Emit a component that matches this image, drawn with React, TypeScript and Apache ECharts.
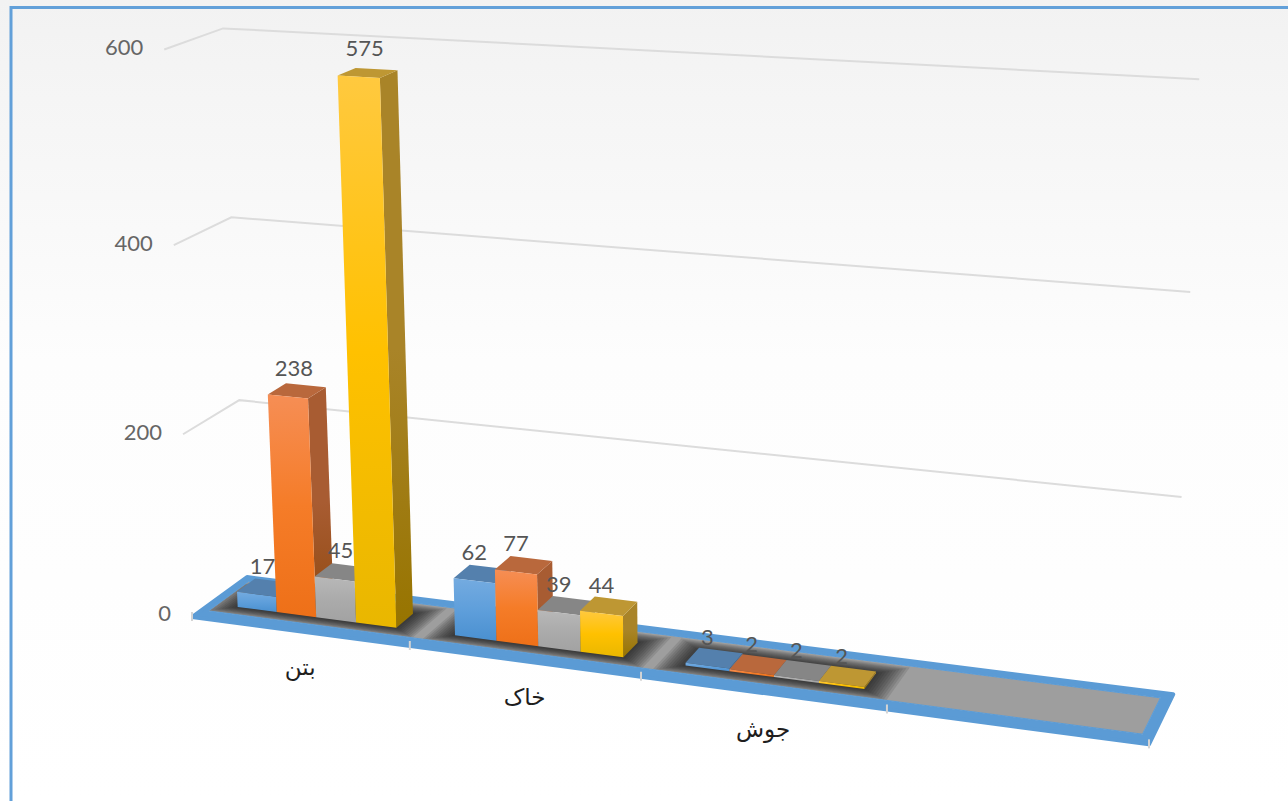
import React, { useEffect, useRef } from "react";
import * as echarts from "echarts";

const categories = ["بتن", "خاک", "جوش", ""];
const seriesA = [17, 62, 3];
const seriesB = [238, 77, 2];
const seriesC = [45, 39, 2];
const seriesD = [575, 44, 2];
const valueTicks = [0, 200, 400, 600];

const palette = [
  { name: "A", values: seriesA, frontTop: "#74abe0", frontMid: "#5f9fdb", frontBottom: "#4a90d0", top: "#5480ad", sideTop: "#4c7aa8", sideBottom: "#3f6f9c" },
  { name: "B", values: seriesB, frontTop: "#f68e55", frontMid: "#f57c28", frontBottom: "#ee7018", top: "#b9683c", sideTop: "#a85c32", sideBottom: "#914a10" },
  { name: "C", values: seriesC, frontTop: "#b8b8b8", frontMid: "#ababab", frontBottom: "#a2a2a2", top: "#868686", sideTop: "#7c7c7c", sideBottom: "#6e6e6e" },
  { name: "D", values: seriesD, frontTop: "#ffc93f", frontMid: "#ffc100", frontBottom: "#e9b700", top: "#be9733", sideTop: "#a98428", sideBottom: "#977400" },
];

const W = 1288;
const H = 801;
// perspective camera: unit box (u along categories, w depth, t height) -> screen
const CAM = {
  ax: 823.7, bx: 64, cx: -36, ox: 192,
  ay: 41, by: -19, cy: -570, oy: 617,
  g: -0.116, h: 0.0363, k: -0.05,
};
const project = (u: number, w: number, t: number): number[] => {
  const d = 1 + CAM.g * u + CAM.h * w + CAM.k * t;
  return [
    (CAM.ax * u + CAM.bx * w + CAM.cx * t + CAM.ox) / d,
    (CAM.ay * u + CAM.by * w + CAM.cy * t + CAM.oy) / d,
  ];
};
const quad = (u0: number, u1: number, w0: number, w1: number, t: number) => [
  project(u0, w0, t), project(u1, w0, t), project(u1, w1, t), project(u0, w1, t),
];

const GAP = 0.128; // share of a category band left of the first column
const BAR = 0.184; // share of a category band per column
const W0 = 1 / 3; // column depth range
const W1 = 2 / 3;
const SHADOW_LEVELS = [1, 0.9, 0.8, 0.7, 0.6, 0.5, 0.4, 0.3, 0.2, 0.1, 0];
const vgrad = (a: string, m: string, b: string) => ({
  type: "linear", x: 0, y: 0, x2: 0, y2: 1,
  colorStops: [{ offset: 0, color: a }, { offset: 0.5, color: m }, { offset: 1, color: b }],
});

const toU = (api: any, cat: number, share: number) => {
  const band = api.size([1, 0])[0];
  const c = api.coord([cat, 0])[0];
  return (c - band / 2 + band * share) / W;
};
const toT = (api: any, value: number) => 1 - api.coord([0, value])[1] / H;

const barSeries = (s: (typeof palette)[number], idx: number) => ({
  type: "custom",
  name: s.name,
  z: 10,
  clip: false,
  encode: { x: 0, y: 1 },
  data: s.values.map((v, i) => [i, v]),
  renderItem: (_: any, api: any) => {
    const cat = api.value(0);
    const t = toT(api, api.value(1));
    const u0 = toU(api, cat, GAP + BAR * idx);
    const u1 = toU(api, cat, GAP + BAR * (idx + 1));
    const bl = project(u0, W0, 0), br = project(u1, W0, 0), brb = project(u1, W1, 0);
    const tl = project(u0, W0, t), tr = project(u1, W0, t), trb = project(u1, W1, t), tlb = project(u0, W1, t);
    return {
      type: "group",
      children: [
        { type: "polygon", shape: { points: [br, brb, trb, tr] }, style: { fill: vgrad(s.sideTop, s.sideTop, s.sideBottom) } },
        { type: "polygon", shape: { points: [tl, tr, trb, tlb] }, style: { fill: s.top } },
        { type: "polygon", shape: { points: [bl, br, tr, tl] }, style: { fill: vgrad(s.frontTop, s.frontMid, s.frontBottom) } },
      ],
    };
  },
});

const labelSeries = (s: (typeof palette)[number], idx: number) => ({
  type: "custom",
  name: s.name + " labels",
  z: 20,
  clip: false,
  encode: { x: 0, y: 1 },
  data: s.values.map((v, i) => [i, v]),
  renderItem: (_: any, api: any) => {
    const cat = api.value(0);
    const val = api.value(1);
    const u = toU(api, cat, GAP + BAR * (idx + 0.5));
    const p = project(u, W0, toT(api, val));
    return {
      type: "text",
      style: {
        x: p[0] + (cat === 0 ? 6 : 0), y: p[1] - 29, text: String(val),
        fill: "#555555", font: "22px Lato, 'Open Sans', sans-serif",
        align: "center", verticalAlign: "middle",
      },
    };
  },
});

const floorInner = { u0: 0.008, u1: 0.99, w0: 0.17, w1: 0.9 };
const pageGradient = {
  type: "linear", x: 0, y: 0, x2: 0, y2: 1,
  colorStops: [
    { offset: 0, color: "#f2f2f2" },
    { offset: 0.45, color: "#fdfdfd" },
    { offset: 1, color: "#ffffff" },
  ],
};

export default function App() {
  const ref = useRef<HTMLDivElement>(null);
  useEffect(() => {
    if (!ref.current) return;
    const chart = echarts.init(ref.current, undefined, { renderer: "svg" });
    chart.setOption({
      animation: false,
      backgroundColor: "#ffffff",
      grid: { left: 0, top: 0, width: W, height: H },
      xAxis: { type: "category", data: categories, show: false },
      yAxis: { type: "value", min: 0, max: 600, interval: 200, show: false },
      graphic: [
        { type: "rect", z: 0, shape: { x: 0, y: 0, width: W, height: H }, style: { fill: pageGradient } },
        {
          type: "rect", z: 1,
          shape: { x: 11, y: 7.5, width: W + 20, height: H + 20 },
          style: { fill: "none", stroke: "#62a0d9", lineWidth: 3 },
        },
      ],
      series: [
        {
          type: "custom", name: "gridlines", z: 2, clip: false,
          encode: { x: 0, y: 1 },
          data: valueTicks.map((v) => [0, v]),
          renderItem: (_: any, api: any) => {
            const val = api.value(1);
            const t = toT(api, val);
            const a = project(0, 0, t), b = project(0, 1, t), c = project(1, 1, t);
            const children: any[] = [
              {
                type: "text",
                style: {
                  x: a[0] - 21, y: a[1] + (val === 0 ? -5 : -3), text: String(val),
                  fill: "#666666", font: "22px Lato, 'Open Sans', sans-serif",
                  align: "right", verticalAlign: "middle",
                },
              },
            ];
            if (val > 0) {
              children.unshift({
                type: "polyline", shape: { points: [a, b, c] },
                style: { stroke: "#dcdcdc", lineWidth: 2, fill: "none" },
              });
            }
            return { type: "group", children };
          },
        },
        {
          type: "custom", name: "floor", z: 3, clip: false,
          encode: { x: 0, y: 1 },
          data: [[0, 0]],
          renderItem: () => ({
            type: "polygon",
            shape: { points: quad(floorInner.u0, floorInner.u1, floorInner.w0, floorInner.w1, 0) },
            style: { fill: "#9e9e9e" },
          }),
        },
        {
          type: "custom", name: "floor shadow", z: 4, clip: false,
          encode: { x: 0, y: 1 },
          data: categories.slice(0, 3).map((_, i) => [i, 0]),
          renderItem: (_: any, api: any) => {
            const cat = api.value(0);
            return {
              type: "group",
              children: SHADOW_LEVELS.map((m) => ({
                type: "polygon",
                shape: {
                  points: quad(
                    toU(api, cat, GAP - 0.11 * m),
                    toU(api, cat, GAP + BAR * 4 + 0.11 * m),
                    W0 - 0.17 * m,
                    W1 + 0.2 * m,
                    0,
                  ),
                },
                style: { fill: "#141414", opacity: 0.11 },
              })),
            };
          },
        },
        {
          type: "custom", name: "floor frame", z: 5, clip: false,
          encode: { x: 0, y: 1 },
          data: [[0, 0]],
          renderItem: () => {
            const o = quad(0, 1, 0, 1, 0);
            const n = quad(floorInner.u0, floorInner.u1, floorInner.w0, floorInner.w1, 0);
            const ring = [o[0], o[1], o[2], o[3], o[0], n[0], n[3], n[2], n[1], n[0]];
            return {
              type: "group",
              children: [
                { type: "polygon", shape: { points: ring }, style: { fill: "#5b9bd5", stroke: "#5b9bd5", lineWidth: 1 } },
                { type: "polyline", shape: { points: [...o, o[0]] }, style: { stroke: "#5b9bd5", lineWidth: 4, lineJoin: "round", fill: "none" } },
              ],
            };
          },
        },
        {
          type: "custom", name: "ticks", z: 6, clip: false,
          encode: { x: 0, y: 1 },
          data: [0, 1, 2, 3, 4].map((i) => [i, 0]),
          renderItem: (_: any, api: any) => {
            const band = api.size([1, 0])[0];
            const p = project((api.value(0) * band) / W, 0, 0);
            return {
              type: "line",
              shape: { x1: p[0], y1: p[1] - 5, x2: p[0], y2: p[1] + 4 },
              style: { stroke: "#d4d4d4", lineWidth: 2 },
            };
          },
        },
        {
          type: "custom", name: "category labels", z: 7, clip: false,
          encode: { x: 0, y: 1 },
          data: categories.slice(0, 3).map((_, i) => [i, 0]),
          renderItem: (_: any, api: any) => {
            const cat = api.value(0);
            const p = project(toU(api, cat, 0.5), 0, 0);
            return {
              type: "text",
              style: {
                x: p[0] + 1, y: p[1] + 36, text: categories[cat],
                fill: "#1e1e1e", font: "23px 'DejaVu Sans', sans-serif",
                align: "center", verticalAlign: "middle",
              },
            };
          },
        },
        ...palette.map(barSeries),
        ...palette.map(labelSeries),
      ],
    });
    return () => chart.dispose();
  }, []);
  return <div ref={ref} style={{ position: "fixed", left: 0, top: 0, width: W, height: H }} />;
}
